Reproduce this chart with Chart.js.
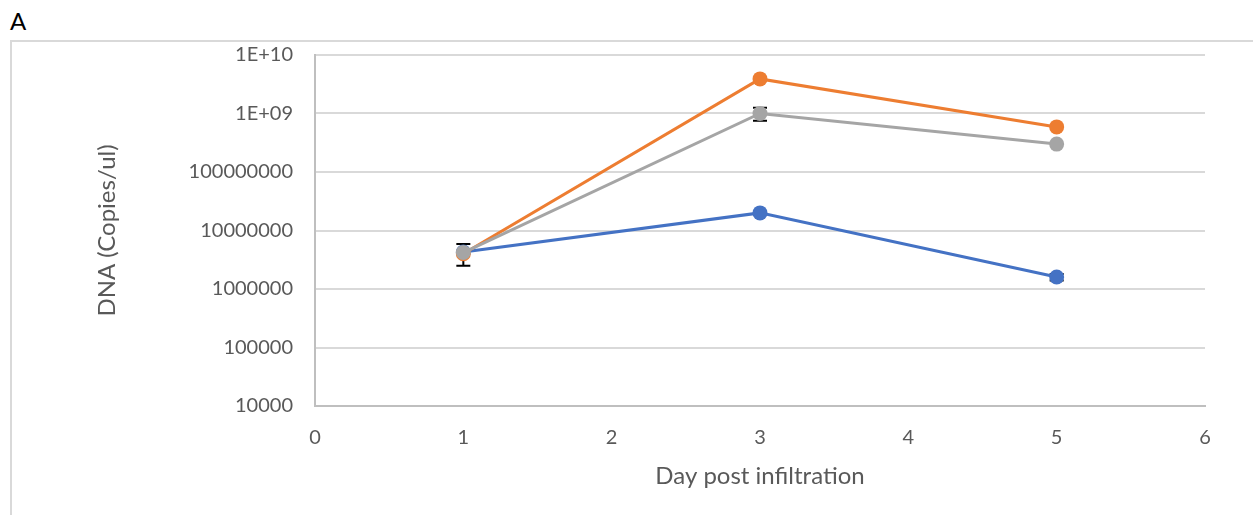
<!DOCTYPE html>
<html>
<head>
<meta charset="utf-8">
<script src="https://cdn.jsdelivr.net/npm/chart.js@4"></script>
<style>
  html, body { margin: 0; padding: 0; background: #fff; width: 1253px; height: 515px; overflow: hidden; }
  #frame { position: absolute; left: 10px; top: 40px; width: 1300px; height: 600px; border-left: 2px solid #d9d9d9; border-top: 2px solid #d9d9d9; box-sizing: border-box; }
  #wrap { position: absolute; left: 0; top: 0; width: 1253px; height: 515px; }
  #label { position: absolute; left: 10px; top: 6px; font-family: Lato, "Open Sans", sans-serif; font-size: 24px; color: #000; }
</style>
</head>
<body>
<div id="label">A</div>
<div id="frame"></div>
<div id="wrap"><canvas id="c" width="1253" height="515"></canvas></div>
<script>
// Sampling days
const days = [1, 3, 5];

// DNA copies per µl for each series
const blueValues = [4.3e6, 2.0e7, 1.6e6];
const orangeValues = [4.0e6, 3.9e9, 5.9e8];
const grayValues = [4.2e6, 1.0e9, 3.0e8];

// Standard deviations (symmetric error bars)
const blueErrors = [0, 0, 0.2e6];
const orangeErrors = [0, 0, 0];
const grayErrors = [1.7e6, 0.25e9, 0];

// Axis tick labels
const xTicks = [0, 1, 2, 3, 4, 5, 6];
const yTickValues = [1e4, 1e5, 1e6, 1e7, 1e8, 1e9, 1e10];
const yTickLabels = ['10000', '100000', '1000000', '10000000', '100000000', '1E+09', '1E+10'];

const toPoints = (vals) => days.map((d, i) => ({ x: d, y: vals[i] }));

// Draws vertical error bars with caps underneath the markers
const errorBars = {
  id: 'errorBars',
  beforeDatasetsDraw(chart) {
    const ctx = chart.ctx;
    const xs = chart.scales.x, ys = chart.scales.y;
    ctx.save();
    ctx.strokeStyle = '#000';
    ctx.lineWidth = 2;
    chart.data.datasets.forEach(ds => {
      (ds.errors || []).forEach((e, i) => {
        if (!e) return;
        const px = xs.getPixelForValue(days[i]);
        const top = ys.getPixelForValue(ds.data[i].y + e);
        const bot = ys.getPixelForValue(Math.max(ds.data[i].y - e, 1));
        ctx.beginPath();
        ctx.moveTo(px, top); ctx.lineTo(px, bot);
        ctx.moveTo(px - 7, top); ctx.lineTo(px + 7, top);
        ctx.moveTo(px - 7, bot); ctx.lineTo(px + 7, bot);
        ctx.stroke();
      });
    });
    ctx.restore();
  }
};

const tickFont = { family: 'Lato, "Open Sans", sans-serif', size: 20 };
const titleFont = { family: 'Lato, "Open Sans", sans-serif', size: 24 };
const textColor = '#595959';
const padLeft = 93, padBottom = 24;

new Chart(document.getElementById('c'), {
  type: 'line',
  data: {
    datasets: [
      { data: toPoints(blueValues), errors: blueErrors, borderColor: '#4472C4', backgroundColor: '#4472C4', order: 2 },
      { data: toPoints(orangeValues), errors: orangeErrors, borderColor: '#ED7D31', backgroundColor: '#ED7D31', order: 1 },
      { data: toPoints(grayValues), errors: grayErrors, borderColor: '#A5A5A5', backgroundColor: '#A5A5A5', order: 0 }
    ]
  },
  options: {
    responsive: false,
    animation: false,
    layout: { padding: { left: padLeft, right: 48, top: 55, bottom: padBottom } },
    elements: {
      line: { borderWidth: 3, tension: 0 },
      point: { radius: 7.5, borderWidth: 0, hoverRadius: 7.5 }
    },
    plugins: { legend: { display: false }, tooltip: { enabled: false } },
    scales: {
      x: {
        type: 'linear', min: 0, max: 6,
        afterBuildTicks(scale) { scale.ticks = xTicks.map(v => ({ value: v })); },
        afterFit(scale) { scale.height = 515 - padBottom - 406; },
        grid: { display: false, drawTicks: false },
        border: { display: true, color: '#bfbfbf', width: 2 },
        ticks: { font: tickFont, color: textColor, padding: 20, maxRotation: 0 },
        title: { display: true, text: 'Day post infiltration', font: titleFont, color: textColor, padding: { top: 0, bottom: 0 } }
      },
      y: {
        type: 'logarithmic', min: 1e4, max: 1e10,
        afterBuildTicks(scale) { scale.ticks = yTickValues.map(v => ({ value: v })); },
        afterFit(scale) { scale.width = 315 - padLeft; },
        grid: { color: '#d9d9d9', lineWidth: 2, drawTicks: false },
        border: { display: true, color: '#bfbfbf', width: 2 },
        ticks: {
          font: tickFont, color: textColor, padding: 22,
          callback(value) { const i = yTickValues.indexOf(value); return i >= 0 ? yTickLabels[i] : ''; }
        },
        title: { display: true, text: 'DNA (Copies/ul)', font: titleFont, color: textColor, padding: { top: 0, bottom: 0 } }
      }
    }
  },
  plugins: [errorBars]
});
</script>
</body>
</html>
